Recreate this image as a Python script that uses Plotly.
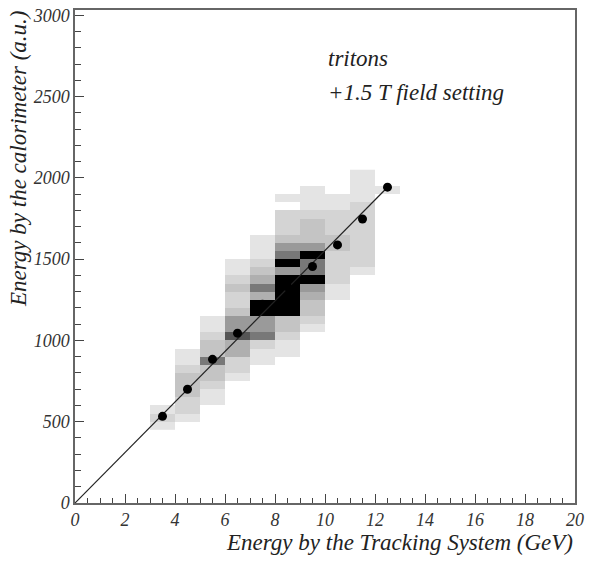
import numpy as np
import plotly.graph_objects as go

# ---- data ----
x_edges = [3, 4, 5, 6, 7, 8, 9, 10, 11, 12, 13]
y_edges = list(range(450, 2051, 50))  # 32 bins of 50 a.u.

# per-column content (index 0 -> 450-500 a.u.), grey intensity 0..10
col_3 = {0: 1, 1: 2, 2: 1}
col_4 = {1: 1, 2: 2, 3: 2, 4: 3, 5: 3, 6: 3, 7: 2, 8: 1, 9: 1}
col_5 = {3: 1, 4: 1, 5: 2, 6: 3, 7: 3, 8: 6, 9: 3, 10: 3, 11: 2, 12: 1, 13: 1}
col_6 = {6: 1, 7: 2, 8: 2, 9: 4, 10: 4, 11: 7, 12: 5, 13: 5, 14: 3, 15: 2, 16: 2,
         17: 3, 18: 2, 19: 1, 20: 1}
col_7 = {8: 1, 9: 1, 10: 2, 11: 6, 12: 5, 13: 5, 14: 10, 15: 10, 16: 4, 17: 6,
         18: 4, 19: 3, 20: 2, 21: 1, 22: 1, 23: 1}
col_8 = {9: 1, 10: 1, 11: 2, 12: 3, 13: 3, 14: 10, 15: 10, 16: 10, 17: 10, 18: 10,
         19: 5, 20: 10, 21: 6, 22: 5, 23: 3, 24: 2, 25: 2, 26: 2, 28: 1}
col_9 = {12: 1, 13: 2, 14: 3, 15: 3, 16: 4, 17: 5, 18: 10, 19: 6, 20: 6, 21: 10,
         22: 5, 23: 3, 24: 3, 25: 3, 26: 2, 27: 1, 28: 1, 29: 1}
col_10 = {16: 1, 17: 1, 18: 2, 19: 2, 20: 2, 21: 2, 22: 3, 23: 3, 24: 2, 25: 2,
          26: 2, 27: 1, 28: 1}
col_11 = {19: 1, 20: 2, 21: 2, 22: 2, 23: 2, 24: 2, 25: 2, 26: 2, 27: 2, 28: 1,
          29: 1, 30: 1, 31: 1}
col_12 = {29: 1}
columns = [col_3, col_4, col_5, col_6, col_7, col_8, col_9, col_10, col_11, col_12]

# profile points
prof_x = [3.5, 4.5, 5.5, 6.5, 7.5, 8.5, 9.5, 10.5, 11.5, 12.5]
prof_y = [533, 700, 884, 1045, 1223, 1330, 1455, 1588, 1747, 1943]

# fitted line
line_x = [0, 12.55]
line_y = [0, 1950]

x_ticks = [0, 2, 4, 6, 8, 10, 12, 14, 16, 18, 20]
y_ticks = [0, 500, 1000, 1500, 2000, 2500, 3000]

# ---- build ----
nby = len(y_edges) - 1
z = np.full((nby, len(columns)), np.nan)
for j, col in enumerate(columns):
    for i, v in col.items():
        z[i, j] = v

SERIF = "Liberation Serif"
fig = go.Figure()
fig.add_trace(go.Heatmap(
    x=x_edges, y=y_edges, z=z, zmin=0, zmax=10,
    colorscale=[[0, "#ffffff"], [0.1, "#e4e4e4"], [0.3, "#c4c4c4"],
                [0.5, "#9a9a9a"], [0.7, "#555555"], [1.0, "#000000"]],
    showscale=False, hoverinfo="skip"))
fig.add_trace(go.Scatter(x=line_x, y=line_y, mode="lines",
                         line=dict(color="#222", width=1.2), showlegend=False))
fig.add_trace(go.Scatter(x=prof_x, y=prof_y, mode="markers",
                         marker=dict(color="black", size=9), showlegend=False))

axis_common = dict(showgrid=False, zeroline=False, showline=True, linecolor="#666",
                   linewidth=1.5, mirror=True, ticks="inside", tickcolor="#444")
tick_font = dict(family=SERIF, size=18, color="#333")
fig.update_xaxes(range=[0, 20], tickvals=x_ticks,
                 ticktext=[f"<i>{v}</i>" for v in x_ticks],
                 ticklen=9, tickfont=tick_font,
                 minor=dict(dtick=0.5, ticks="inside", ticklen=5, tickcolor="#444"),
                 **axis_common)
fig.update_yaxes(range=[0, 3033], tickvals=y_ticks,
                 ticktext=[f"<i>{v}</i>" for v in y_ticks],
                 ticklen=9, tickfont=tick_font,
                 minor=dict(dtick=100, ticks="inside", ticklen=6, tickcolor="#444"),
                 **axis_common)

ann_font = dict(family=SERIF, size=23, color="#222")
fig.add_annotation(text="<i>Energy by the Tracking System (GeV)</i>", xref="paper",
                   yref="paper", x=1.0, y=-0.08, xanchor="right", yanchor="middle",
                   showarrow=False, font=ann_font)
fig.add_annotation(text="<i>Energy by the calorimeter (a.u.)</i>", xref="paper",
                   yref="paper", x=-0.114, y=1.003, xanchor="center", yanchor="top",
                   textangle=-90, showarrow=False, font=ann_font)
fig.add_annotation(text="<i>tritons</i>", xref="paper", yref="paper", x=0.502, y=0.901,
                   xanchor="left", yanchor="middle", showarrow=False, font=ann_font)
fig.add_annotation(text="<i>+1.5 T field setting</i>", xref="paper", yref="paper",
                   x=0.502, y=0.833, xanchor="left", yanchor="middle",
                   showarrow=False, font=ann_font)

fig.update_layout(width=596, height=562, margin=dict(l=75, r=21, t=6, b=59),
                  paper_bgcolor="white", plot_bgcolor="white",
                  font=dict(family=SERIF))
fig.write_html("out.html")
